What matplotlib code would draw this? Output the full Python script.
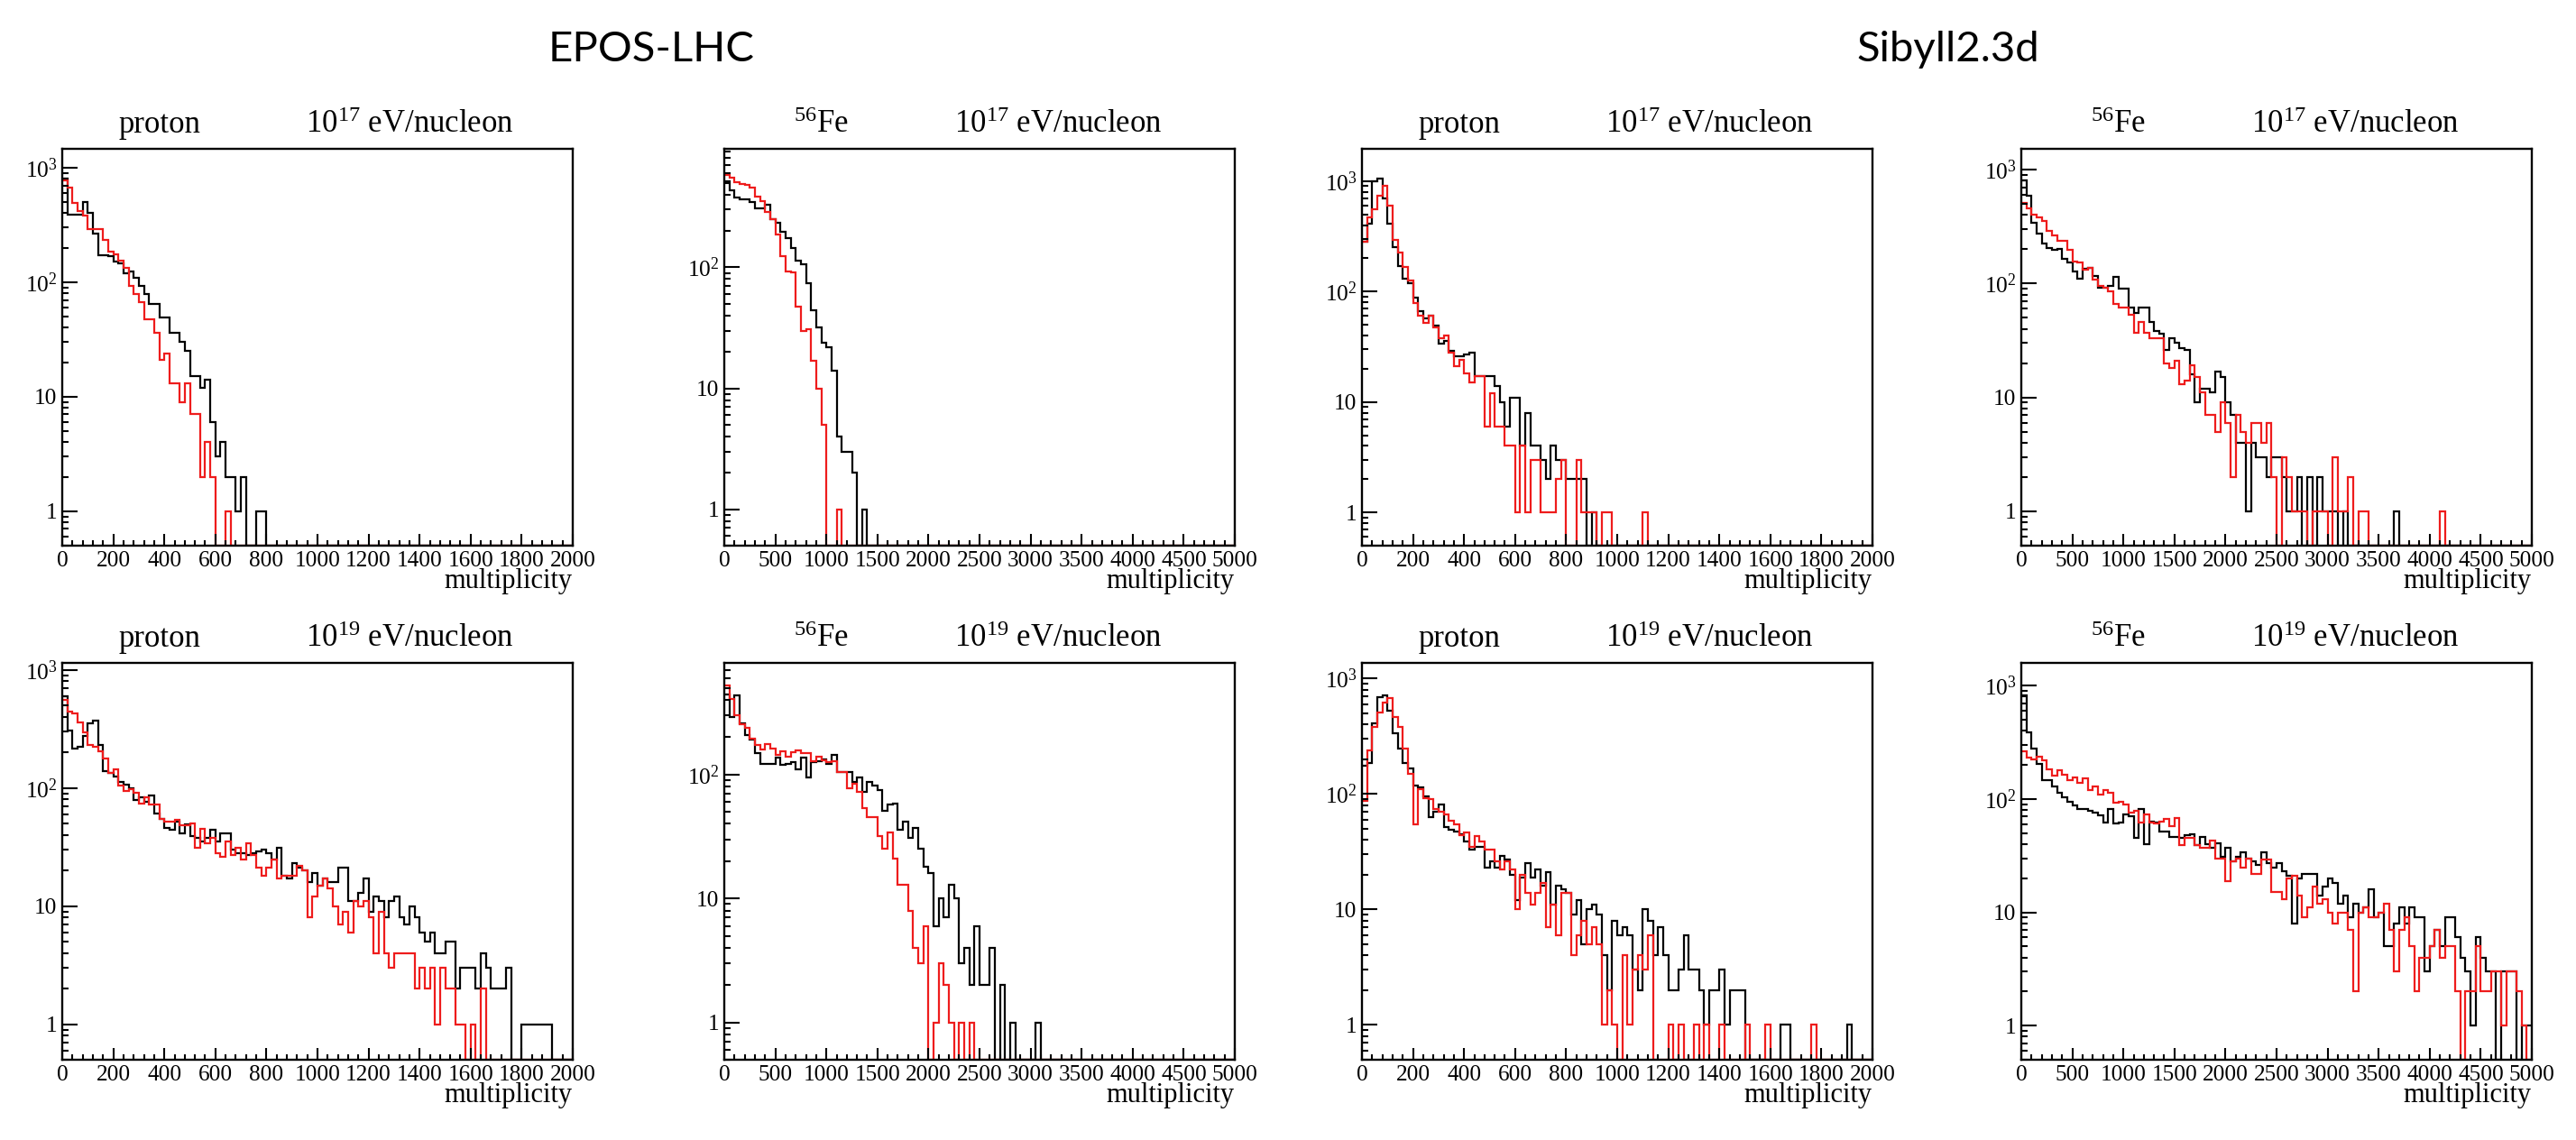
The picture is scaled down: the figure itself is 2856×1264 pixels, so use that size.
import numpy as np
import matplotlib
matplotlib.use("Agg")
import matplotlib.pyplot as plt
from matplotlib.ticker import FixedLocator, FixedFormatter, MultipleLocator, LogLocator, NullFormatter

plt.rcParams['font.family'] = ['Liberation Serif', 'DejaVu Serif']
plt.rcParams['mathtext.fontset'] = 'custom'
plt.rcParams['mathtext.rm'] = 'Liberation Serif'
plt.rcParams['mathtext.it'] = 'Liberation Serif:italic'
plt.rcParams['mathtext.bf'] = 'Liberation Serif:bold'

# ---------------- data (counts per bin, remaining bins are empty) ----------------
# EPOS-LHC, proton, 1e17 eV/nucleon (bin width 20)
epos_p17_black = [800, 390, 390, 390, 500, 405, 265, 172, 172, 170,
                  150, 145, 120, 125, 110, 93, 79, 64, 64, 49,
                  49, 36, 36, 30, 25, 15, 15, 12, 14, 6,
                  3, 4, 2, 2, 1, 2, 0, 0, 1, 1]
epos_p17_red = [780, 665, 490, 420, 380, 290, 290, 290, 235, 185,
                175, 155, 133, 93, 79, 67, 47, 47, 36, 21,
                24, 13, 13, 9, 13, 7, 7, 2, 4, 2,
                0, 0, 1]
# EPOS-LHC, 56Fe, 1e17 eV/nucleon (bin width 50)
epos_fe17_black = [513, 437, 380, 365, 365, 344, 310, 310, 330, 250,
                   235, 196, 175, 144, 114, 106, 74, 44, 32, 24,
                   22, 14, 4, 3, 3, 2, 0, 1]
epos_fe17_red = [580, 555, 505, 490, 480, 455, 387, 355, 285, 250,
                 188, 123, 93, 91, 47, 30, 31, 17, 10, 5,
                 0, 0, 1]
# Sibyll2.3d, proton, 1e17 eV/nucleon (bin width 20)
sib_p17_black = [280, 415, 990, 1050, 700, 415, 254, 170, 131, 120,
                 88, 66, 57, 61, 49, 34, 36, 29, 26, 26,
                 27, 28, 17, 17, 17, 17, 14, 10, 6, 11,
                 11, 4, 8, 4, 4, 3, 2, 4, 3, 3,
                 2, 2, 2, 2, 0, 1]
sib_p17_red = [285, 470, 555, 740, 910, 600, 295, 225, 168, 127,
               79, 61, 52, 61, 47, 38, 40, 28, 21, 24,
               18, 15, 17, 17, 6, 12, 6, 6, 4, 4,
               1, 4, 1, 3, 3, 1, 1, 1, 2, 3,
               0, 0, 3, 1, 1, 1, 0, 1, 1, 0,
               0, 0, 0, 0, 0, 1]
# Sibyll2.3d, 56Fe, 1e17 eV/nucleon (bin width 50)
sib_fe17_black = [805, 590, 343, 272, 226, 206, 196, 202, 163, 153,
                  128, 110, 134, 137, 116, 92, 92, 96, 114, 90,
                  90, 62, 55, 61, 61, 46, 38, 36, 26, 33,
                  30, 27, 26, 16, 9, 12, 12, 11, 17, 15,
                  9, 7, 4, 4, 1, 4, 3, 3, 2, 3,
                  3, 2, 1, 1, 2, 0, 2, 0, 2, 1,
                  1, 1, 0, 1, 0, 0, 0, 0, 0, 0,
                  0, 0, 0, 1]
sib_fe17_red = [509, 457, 405, 378, 354, 290, 265, 236, 236, 196,
                156, 153, 132, 137, 109, 96, 92, 85, 66, 62,
                61, 53, 37, 46, 37, 33, 33, 33, 20, 18,
                21, 13, 14, 19, 15, 11, 7, 7, 5, 9,
                6, 2, 7, 5, 4, 6, 6, 4, 6, 2,
                0, 3, 2, 1, 1, 1, 0, 1, 1, 1,
                0, 3, 1, 1, 2, 0, 1, 1, 0, 0,
                0, 0, 0, 0, 0, 0, 0, 0, 0, 0,
                0, 0, 1]
# EPOS-LHC, proton, 1e19 eV/nucleon (bin width 20)
epos_p19_black = [595, 306, 216, 224, 278, 352, 370, 230, 139, 134,
                  126, 113, 106, 100, 79, 84, 76, 86, 61, 55,
                  46, 44, 52, 41, 49, 39, 38, 35, 38, 44,
                  35, 41, 41, 30, 28, 28, 27, 28, 29, 30,
                  28, 25, 31, 18, 17, 23, 21, 20, 16, 19,
                  15, 17, 16, 16, 21, 21, 11, 11, 13, 17,
                  9, 12, 11, 8, 11, 12, 8, 7, 10, 8,
                  6, 5, 6, 4, 4, 5, 5, 2, 3, 3,
                  3, 2, 4, 3, 2, 2, 2, 3, 0, 0,
                  1, 1, 1, 1, 1, 1]
epos_p19_red = [558, 443, 425, 358, 296, 230, 224, 203, 179, 135,
                143, 104, 95, 98, 91, 74, 84, 72, 72, 55,
                52, 52, 54, 48, 48, 50, 31, 45, 34, 38,
                28, 26, 35, 27, 31, 25, 34, 27, 21, 18,
                21, 25, 17, 18, 18, 18, 22, 20, 8, 12,
                15, 17, 14, 10, 7, 9, 6, 11, 10, 11,
                8, 4, 9, 4, 3, 4, 4, 4, 4, 2,
                3, 2, 3, 1, 3, 2, 2, 1, 1, 0,
                1, 0, 2]
# EPOS-LHC, 56Fe, 1e19 eV/nucleon (bin width 50)
epos_fe19_black = [444, 291, 433, 259, 209, 190, 150, 121, 121, 121,
                   137, 119, 121, 125, 110, 137, 94, 125, 128, 133,
                   121, 143, 104, 104, 104, 87, 95, 73, 87, 82,
                   75, 51, 57, 58, 36, 42, 31, 37, 25, 18,
                   16, 6, 10, 7, 13, 10, 3, 4, 2, 6,
                   2, 2, 4, 0, 2, 0, 1, 0, 0, 0,
                   0, 1]
epos_fe19_red = [523, 405, 300, 255, 236, 193, 174, 159, 177, 161,
                 145, 154, 139, 152, 157, 150, 150, 128, 139, 131,
                 126, 128, 104, 104, 78, 84, 73, 54, 45, 45,
                 32, 25, 34, 21, 13, 13, 8, 4, 3, 6,
                 0, 1, 3, 2, 1, 0, 1, 0, 1]
# Sibyll2.3d, proton, 1e19 eV/nucleon (bin width 20)
sib_p19_black = [175, 185, 405, 690, 710, 520, 335, 245, 184, 167,
                 118, 113, 95, 63, 70, 81, 52, 49, 47, 45,
                 39, 33, 35, 35, 23, 26, 23, 29, 27, 20,
                 12, 19, 25, 19, 22, 16, 21, 11, 16, 15,
                 14, 9, 12, 5, 10, 11, 9, 4, 2, 8,
                 6, 7, 6, 3, 2, 10, 8, 4, 7, 4,
                 2, 2, 3, 6, 3, 3, 2, 1, 2, 2,
                 3, 1, 2, 2, 2, 0, 0, 0, 0, 0,
                 0, 0, 1, 1, 0, 0, 0, 0, 0, 0,
                 0, 0, 0, 0, 0, 1]
sib_p19_red = [87, 238, 380, 510, 620, 680, 460, 380, 245, 150,
               54, 110, 91, 90, 74, 70, 66, 59, 54, 44,
               46, 35, 43, 39, 33, 33, 26, 22, 26, 22,
               10, 20, 14, 11, 14, 17, 7, 11, 6, 14,
               14, 4, 6, 8, 5, 7, 5, 1, 2, 1,
               0, 4, 1, 3, 4, 3, 6, 0, 0, 0,
               1, 0, 1, 0, 0, 1, 0, 1, 0, 0,
               1, 0, 0, 0, 0, 1, 0, 0, 0, 1,
               0, 0, 0, 0, 0, 0, 0, 0, 1]
# Sibyll2.3d, 56Fe, 1e19 eV/nucleon (bin width 50)
sib_fe19_black = [826, 389, 280, 203, 147, 147, 130, 113, 104, 94,
                  88, 82, 82, 78, 76, 72, 62, 82, 61, 62,
                  73, 70, 45, 81, 40, 63, 62, 52, 52, 46,
                  46, 45, 48, 49, 39, 46, 40, 37, 41, 31,
                  37, 28, 31, 34, 30, 28, 26, 34, 27, 25,
                  27, 23, 21, 8, 20, 22, 22, 22, 14, 17,
                  20, 18, 12, 14, 9, 12, 10, 11, 16, 9,
                  10, 5, 5, 8, 11, 8, 11, 9, 9, 3,
                  5, 7, 5, 9, 9, 6, 4, 3, 1, 6,
                  4, 3, 3, 0, 3, 3, 3, 0, 1, 1]
sib_fe19_red = [262, 232, 225, 235, 218, 184, 162, 181, 165, 147,
                155, 139, 151, 119, 130, 109, 119, 114, 92, 95,
                89, 76, 78, 62, 73, 62, 61, 63, 67, 58,
                68, 39, 45, 45, 39, 37, 37, 43, 30, 30,
                19, 28, 30, 25, 30, 22, 22, 29, 29, 15,
                15, 13, 20, 21, 14, 9, 11, 17, 12, 13,
                10, 8, 10, 10, 7, 2, 10, 11, 9, 9,
                10, 12, 7, 3, 7, 9, 5, 2, 4, 4,
                5, 7, 4, 5, 5, 2, 0, 2, 2, 5,
                2, 2, 3, 3, 1, 3, 3, 2, 1, 0]

models = ["EPOS-LHC", "Sibyll2.3d"]
energies = ["10$^{17}$ eV/nucleon", "10$^{19}$ eV/nucleon"]
x_ranges = {"proton": 2000, "$^{56}$Fe": 5000}
x_major = {"proton": 200, "$^{56}$Fe": 500}
x_minor = {"proton": 40, "$^{56}$Fe": 100}
n_bins = 100
y_tick_values = [1, 10, 100, 1000]
y_tick_labels = ["1", "10", "$10^{2}$", "$10^{3}$"]

# (row, column, particle, energy index, black, red, ymax)
panels = [
    (0, 0, "proton", 0, epos_p17_black, epos_p17_red, 1460),
    (0, 1, "$^{56}$Fe", 0, epos_fe17_black, epos_fe17_red, 955),
    (0, 2, "proton", 0, sib_p17_black, sib_p17_red, 1960),
    (0, 3, "$^{56}$Fe", 0, sib_fe17_black, sib_fe17_red, 1520),
    (1, 0, "proton", 1, epos_p19_black, epos_p19_red, 1145),
    (1, 1, "$^{56}$Fe", 1, epos_fe19_black, epos_fe19_red, 795),
    (1, 2, "proton", 1, sib_p19_black, sib_p19_red, 1360),
    (1, 3, "$^{56}$Fe", 1, sib_fe19_black, sib_fe19_red, 1590),
]

# ---------------- layout ----------------
W, H = 2856, 1264
fig = plt.figure(figsize=(W / 100, H / 100), dpi=100)
col_left = [69, 803, 1510, 2241]
row_top = [165, 735]
ax_w, ax_h = 566, 440
ymin = 0.5

for row, col, part, ei, black, red, ymax in panels:
    left = col_left[col]
    top = row_top[row]
    ax = fig.add_axes([left / W, 1 - (top + ax_h) / H, ax_w / W, ax_h / H])
    xmax = x_ranges[part]
    edges = np.linspace(0, xmax, n_bins + 1)
    for counts, color in ((black, "black"), (red, "#ee1c1c")):
        c = np.zeros(n_bins)
        c[:len(counts)] = counts
        ax.stairs(np.clip(c, ymin, None), edges, baseline=None,
                  color=color, lw=1.6)
    ax.set_yscale("log")
    ax.set_xlim(0, xmax)
    ax.set_ylim(ymin, ymax)

    ax.xaxis.set_major_locator(MultipleLocator(x_major[part]))
    ax.xaxis.set_minor_locator(MultipleLocator(x_minor[part]))
    ticks = [t for t in y_tick_values if ymin <= t <= ymax]
    labels = [y_tick_labels[y_tick_values.index(t)] for t in ticks]
    ax.yaxis.set_major_locator(FixedLocator(ticks))
    ax.yaxis.set_major_formatter(FixedFormatter(labels))
    ax.yaxis.set_minor_locator(LogLocator(base=10, subs=np.arange(2, 10), numticks=20))
    ax.yaxis.set_minor_formatter(NullFormatter())

    ax.tick_params(axis="both", which="both", direction="in",
                   top=False, right=False, labelsize=18.2, width=1.5, color="black")
    ax.tick_params(axis="x", which="major", length=9.5, pad=4)
    ax.tick_params(axis="x", which="minor", length=4.5)
    ax.tick_params(axis="y", which="major", length=12.5, pad=4)
    ax.tick_params(axis="y", which="minor", length=5)
    for s in ax.spines.values():
        s.set_linewidth(1.7)

    ax.text(0.19, 1 + 18 / ax_h, part, transform=ax.transAxes,
            ha="center", va="baseline", fontsize=25)
    xe = 0.68 if part == "proton" else 0.655
    ax.text(xe, 1 + 18 / ax_h, energies[ei], transform=ax.transAxes,
            ha="center", va="baseline", fontsize=25)
    ax.text(1.0, -47 / ax_h, "multiplicity", transform=ax.transAxes,
            ha="right", va="baseline", fontsize=22)

fig.text(722 / W, 1 - 55 / H, models[0], ha="center", va="center",
         family=["Lato", "DejaVu Sans"], fontsize=34)
fig.text(2160 / W, 1 - 55 / H, models[1], ha="center", va="center",
         family=["Lato", "DejaVu Sans"], fontsize=34)

fig.savefig("out.png", dpi=100)
